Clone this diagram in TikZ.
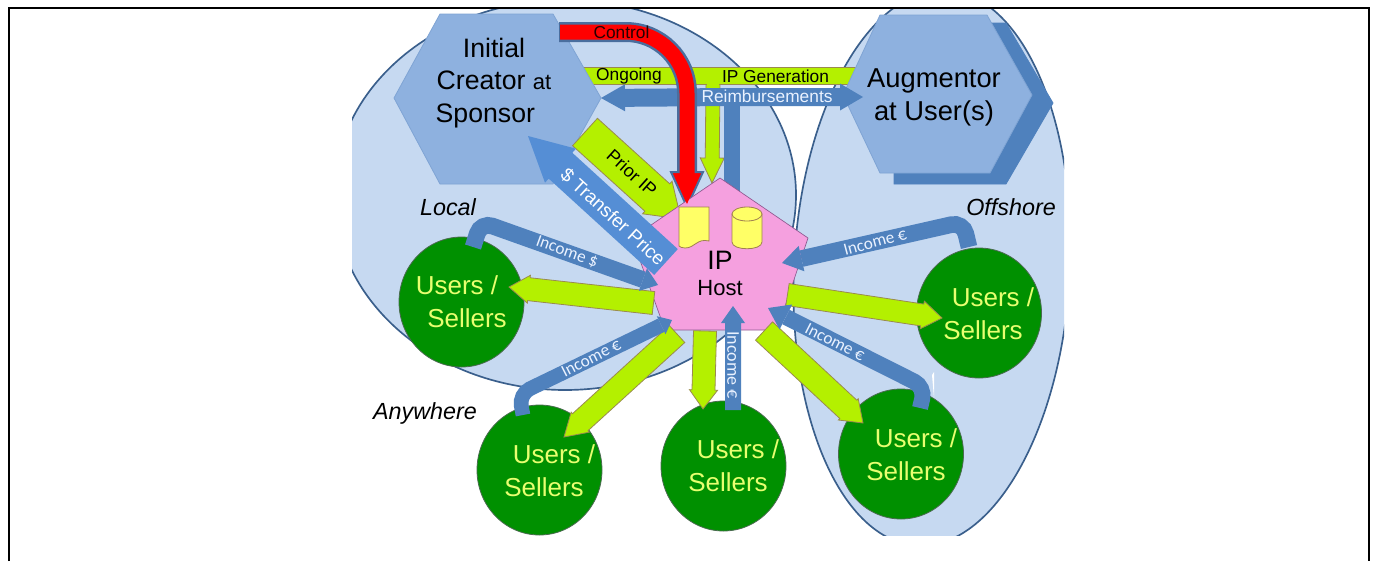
\documentclass[tikz,border=0pt]{standalone}
\usepackage{fontspec}
\setmainfont{Liberation Sans}
\newfontfamily\incfont{Carlito}
\usetikzlibrary{calc,shapes.geometric}
\definecolor{zonefill}{HTML}{C6D9F1}
\definecolor{zoneedge}{HTML}{3A5F8C}
\definecolor{hexfill}{HTML}{8EB1DF}
\definecolor{hexedge}{HTML}{7FA4D4}
\definecolor{hexback}{HTML}{4F81BD}
\definecolor{ipblue}{HTML}{4F81BD}
\definecolor{tpblue}{HTML}{558ED5}
\definecolor{limefill}{HTML}{B4F000}
\definecolor{limeedge}{HTML}{9A8A50}
\definecolor{hostpink}{HTML}{F5A0DF}
\definecolor{hostedge}{HTML}{8E5A90}
\definecolor{usergreen}{HTML}{009000}
\definecolor{useredge}{HTML}{4A6A50}
\definecolor{usertext}{HTML}{E8FF70}
\definecolor{docyellow}{HTML}{FFFF66}
\definecolor{docedge}{HTML}{A08050}
\definecolor{ctledge}{HTML}{4A6E9E}
\definecolor{lighttext}{HTML}{EAF2FF}
\newcommand\fs[1]{\fontsize{#1}{#1}\selectfont}
\newcommand\blockarrow[6]{%
  \coordinate (ba) at ($(#2)!#5*0.75pt!(#1)$);
  \path[#6] ($(#1)!#3*0.375pt!90:(#2)$) -- ($(ba)!#3*0.375pt!90:(#2)$)
    -- ($(ba)!#4*0.375pt!90:(#2)$) -- (#2) -- ($(ba)!#4*0.375pt!-90:(#2)$)
    -- ($(ba)!#3*0.375pt!-90:(#2)$) -- ($(#1)!#3*0.375pt!-90:(#2)$) -- cycle;
}
\tikzset{
  zone/.style={fill=zonefill,draw=zoneedge,line width=1.25pt},
  lime/.style={fill=limefill,draw=limeedge,line width=0.6pt},
  blue/.style={fill=ipblue},
  tp/.style={fill=tpblue},
  userdisc/.style={ellipse,fill=usergreen,draw=useredge,line width=0.6pt,inner sep=0pt,minimum width=93.75pt,minimum height=97.5pt},
  usertxt/.style={text=usertext,align=center,inner sep=0pt,font=\fs{19.5}},
  place/.style={font=\fs{17.5}\itshape,text=black,inner sep=0pt},
  inc/.style={font=\incfont\fs{12.9},text=lighttext,inner sep=0pt},
  bar/.style={font=\fs{13},inner sep=0pt},
  incline/.style={draw=ipblue,line width=12pt,rounded corners=9pt},
  hex/.style={fill=hexfill,draw=hexedge,line width=0.6pt},
  docshape/.style={fill=docyellow,draw=docedge,line width=0.6pt},
}
\begin{document}
\begin{tikzpicture}[x=0.75pt,y=-0.75pt]
\useasboundingbox (0,0) rectangle (1374,561);
\fill[white] (0,0) rectangle (1374,561);
% named end points
\coordinate (gs0) at (713,80);
\coordinate (gt0) at (712,183);
\coordinate (rb) at (732,97);
\coordinate (rl) at (601,98);
\coordinate (rr) at (863,97);
\coordinate (stem) at (732,205);
\coordinate (c0) at (560,32);
\coordinate (c0e) at (559,32);
\coordinate (cb) at (687,172);
\coordinate (cbi) at (687,176);
\coordinate (ct) at (687,207);
\coordinate (ps) at (585,132);
\coordinate (pt) at (681,219);
\coordinate (ts) at (666,262);
\coordinate (tt) at (528,136);
\begin{scope}
\clip (352,8) rectangle (1064,535);
\draw[zone] (565,195) ellipse [x radius=231,y radius=195];
\begin{scope}[shift={(932,268)},rotate=-3]
\draw[zone] (0,0) ellipse [x radius=138,y radius=278];
\end{scope}
% IP generation band and branch
\blockarrow{gs0}{gt0}{14}{24}{25}{lime}
\path[lime] (575,67) -- (860,67) -- (860,84) -- (575,84) -- cycle;
\fill[limefill] (707,82) rectangle (719,88);
% hexagons
\path[hex,fill=hexback,draw=hexback] (894,24) -- (1006,23) -- (1053,103) -- (1006,184) -- (894,184) -- cycle;
\path[hex] (440,14) -- (553,14) -- (601,98) -- (553,184) -- (440,184) -- (394,98) -- cycle;
\path[hex] (880,15) -- (987,15) -- (1032,95) -- (990,173) -- (880,173) -- (843,95) -- cycle;
\node[font=\fs{20},align=center,inner sep=0pt] (creator) at (494,83) {Initial\\[4.4pt]Creator {\fs{16.5}at}\\[4.4pt]Sponsor\hspace*{13pt}};
\node[font=\fs{20.5},align=center,inner sep=0pt] (augmentor) at (934,97.5) {Augmentor\\[4.2pt]at User(s)};
% prior IP
\blockarrow{ps}{pt}{37}{44}{32}{lime}
% reimbursements
\draw[draw=ipblue,line width=12pt] (rb) -- (stem);
\blockarrow{rb}{rl}{18}{27}{24}{blue}
\blockarrow{rb}{rr}{18}{27}{23}{blue}
% control
\draw[draw=ctledge,line width=15pt,rounded corners=46pt] (c0e) -| (cb);
\blockarrow{cb}{ct}{17}{32}{35}{fill=red,draw=ctledge,line width=1.5pt}
% host
\path[fill=hostpink,draw=hostedge,line width=0.5pt] (720,178) -- (808,238) -- (777,330) -- (665,330) -- (632,238) -- cycle;
\draw[draw=red,line width=11.25pt,rounded corners=46pt] (c0) -| (cbi);
\fill[red] (674,174) -- (700,174) -- (687,204) -- cycle;
\node[align=center,inner sep=0pt] (host) at (720,273.5) {{\fs{20}IP}\\[8pt]{\fs{16.5}Host}};
\path[docshape] (679,207) -- (709,207) -- (709,241) .. controls (697,238) and (695,248) .. (685,248) .. controls (682,248) and (680,247) .. (679,246) -- cycle;
\path[docshape] (732,214) -- (732,242) .. controls (732,251) and (762,251) .. (762,242) -- (762,214) -- cycle;
\draw[docshape] (747,214) ellipse [x radius=15,y radius=7];
\blockarrow{ts}{tt}{35}{46}{44}{tp}
% user discs
\node[userdisc] (u1) at (461.5,302) {};
\node[userdisc] (u2) at (539.5,470) {};
\node[userdisc] (u3) at (723.5,466) {};
\node[userdisc] (u4) at (901,454) {};
\node[userdisc] (u5) at (979,313) {};
\node[usertxt] (t1) at (462,301.5) {Users /\hspace*{7.5pt}\\[5.2pt]\hspace*{7.5pt}Sellers};
\node[usertxt] (t2) at (549,470.5) {\hspace*{7.5pt}Users /\\[5.2pt]Sellers\hspace*{7.5pt}};
\node[usertxt] (t3) at (733,466) {\hspace*{7.5pt}Users /\\[5.2pt]Sellers\hspace*{7.5pt}};
\node[usertxt] (t4) at (911,454.5) {\hspace*{7.5pt}Users /\\[5.2pt]Sellers\hspace*{7.5pt}};
\node[usertxt] (t5) at (988,313.5) {\hspace*{7.5pt}Users /\\[5.2pt]Sellers\hspace*{7.5pt}};
% lime arrows from host to users
\coordinate (g1s) at (653.5,303); \coordinate (g1t) at (509,287);
\coordinate (g2s) at (677,334);   \coordinate (g2t) at (564,437);
\coordinate (g3s) at (705,331);   \coordinate (g3t) at (703,409);
\coordinate (g4s) at (764,331);   \coordinate (g4t) at (863,423);
\coordinate (g5s) at (787.5,294.5); \coordinate (g5t) at (942,318);
\blockarrow{g1s}{g1t}{23}{28}{20}{lime}
\blockarrow{g2s}{g2t}{23}{27}{22}{lime}
\blockarrow{g3s}{g3t}{23}{28}{19}{lime}
\blockarrow{g4s}{g4t}{25}{29}{20}{lime}
\blockarrow{g5s}{g5t}{22}{28}{20}{lime}
% income arrows
\coordinate (i1a) at (473,247); \coordinate (i1c) at (481,222); \coordinate (i1t) at (658,285);
\coordinate (i1b) at ($(i1t)!12pt!(i1c)$);
\draw[incline,line width=12.5pt] (i1a) -- (i1c) -- (i1b);
\blockarrow{i1b}{i1t}{17}{24}{16}{blue}
\coordinate (i2a) at (523,415); \coordinate (i2c) at (519,394); \coordinate (i2t) at (672,320);
\coordinate (i2b) at ($(i2t)!9pt!(i2c)$);
\draw[incline,line width=11pt] (i2a) -- (i2c) -- (i2b);
\blockarrow{i2b}{i2t}{14}{20}{12}{blue}
\coordinate (i3a) at (733,410); \coordinate (i3t) at (733,306);
\blockarrow{i3a}{i3t}{16}{24}{17}{blue}
\coordinate (i4a) at (920,408); \coordinate (i4c) at (925,387); \coordinate (i4t) at (768,308);
\coordinate (i4b) at ($(i4t)!15pt!(i4c)$);
\fill[white] (932,375) -- (934,372) -- (934,398) -- cycle;
\draw[incline] (i4a) -- (i4c) -- (i4b);
\blockarrow{i4b}{i4t}{15}{28}{20}{blue}
\coordinate (i5a) at (969,247); \coordinate (i5c) at (963,222); \coordinate (i5t) at (782,263);
\coordinate (i5b) at ($(i5t)!15pt!(i5c)$);
\draw[incline,line width=12.5pt] (i5a) -- (i5c) -- (i5b);
\blockarrow{i5b}{i5t}{15}{26}{20}{blue}
\end{scope}
% labels
\node[bar,text=black!85!red] (lcontrol) at (621.5,32) {Control};
\node[bar] (longoing) at (629,76) {Ongoing};
\node[bar] (lipgen) at (775.5,76) {IP Generation};
\node[bar,text=lighttext] (lreimb) at (767,96) {Reimbursements};
\node[font=\fs{14.2},rotate=-42.4,text=white,inner sep=0pt] (ltp) at (613,217) {\$ Transfer Price};
\node[font=\fs{13.5},rotate=-42,inner sep=0pt] (lprior) at (632,173) {Prior IP};
\node[inc,rotate=-19.8] (li1) at (567,252) {Income \$};
\node[inc,rotate=27] (li2) at (591,358) {Income €};
\node[inc,rotate=-90,font=\incfont\fs{13.5}] (li3) at (733,365) {Income €};
\node[inc,rotate=-27] (li4) at (835,342) {Income €};
\node[inc,rotate=15] (li5) at (875,242) {Income €};
\node[place] (local) at (448,207) {Local};
\node[place] (offshore) at (1011,207) {Offshore};
\node[place] (anywhere) at (425,413) {Anywhere};
% frame
\draw[line width=1.5pt] (9,561) -- (9,8) -- (1369,8) -- (1369,561);
\end{tikzpicture}
\end{document}
